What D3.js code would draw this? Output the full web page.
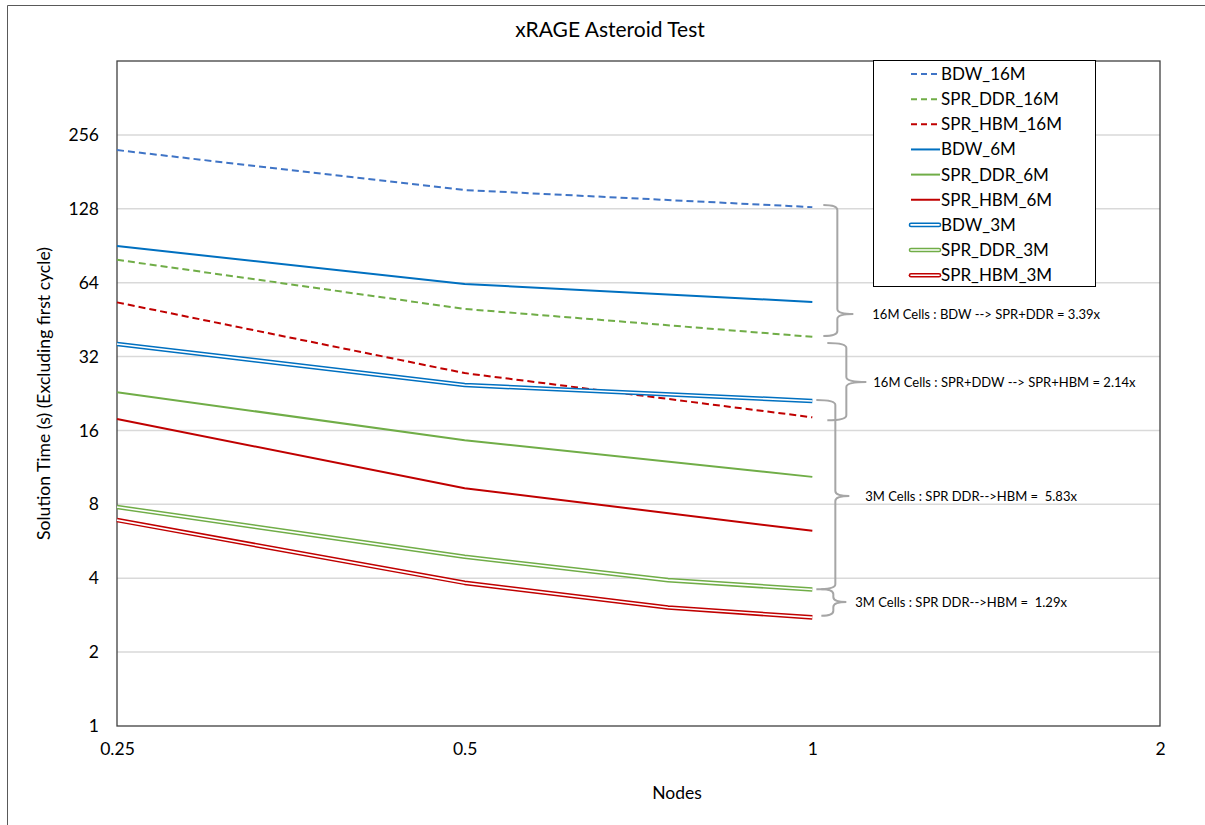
<!DOCTYPE html>
<html>
<head>
<meta charset="utf-8">
<script src="https://cdn.jsdelivr.net/npm/d3@7"></script>
<style>
  body { margin: 0; background: #fff; }
  svg { display: block; font-family: Lato, "Liberation Sans", sans-serif; }
  text { white-space: pre; }
</style>
</head>
<body>
<svg id="chart" width="1205" height="825"></svg>
<script>
// ---- data ----
const xTicks = [0.25, 0.5, 1, 2];
const yTicks = [1, 2, 4, 8, 16, 32, 64, 128, 256];

const nodes4 = [0.25, 0.5, 0.75, 1];
const nodes3 = [0.25, 0.5, 1];

const BDW_16M     = [222, 152.6, 130];
const SPR_DDR_16M = [79.3, 50.0, 38.5];
const SPR_HBM_16M = [53.2, 27.4, 18.1];
const BDW_6M      = [90.2, 63.2, 53.4];
const SPR_DDR_6M  = [22.9, 14.6, 10.35];
const SPR_HBM_6M  = [17.8, 9.3, 6.24];
const BDW_3M      = [36.0, 24.5, 21.1];
const SPR_DDR_3M  = [7.8, 4.89, 3.93, 3.6];
const SPR_HBM_3M  = [6.9, 3.83, 3.04, 2.77];

const seriesNames = ["BDW_16M","SPR_DDR_16M","SPR_HBM_16M","BDW_6M","SPR_DDR_6M","SPR_HBM_6M","BDW_3M","SPR_DDR_3M","SPR_HBM_3M"];
const seriesX = [nodes3, nodes3, nodes3, nodes3, nodes3, nodes3, nodes3, nodes4, nodes4];
const seriesY = [BDW_16M, SPR_DDR_16M, SPR_HBM_16M, BDW_6M, SPR_DDR_6M, SPR_HBM_6M, BDW_3M, SPR_DDR_3M, SPR_HBM_3M];
const seriesColor = ["#3F74C6","#70AD47","#C00000","#0070C0","#70AD47","#C00000","#0070C0","#70AD47","#C00000"];
const seriesStyle = ["dash","dash","dash","solid","solid","solid","double","double","double"];

// annotation braces (values in data units)
const braceTop   = [132.5, 36.3, 21.3, 3.61];
const braceBot   = [38.8, 17.6, 3.61, 2.81];
const braceTip   = [47.7, 25.2, 8.65, 3.2];
const braceText  = ["16M Cells : BDW --> SPR+DDR = 3.39x",
                    "16M Cells : SPR+DDW --> SPR+HBM = 2.14x",
                    "3M Cells : SPR DDR-->HBM =  5.83x",
                    "3M Cells : SPR DDR-->HBM =  1.29x"];

// ---- layout ----
const svg = d3.select("#chart");
const L = 117, R = 1160, T = 61, B = 726;
const x = d3.scaleLog().base(2).domain([0.25, 2]).range([L, R]);
const y = d3.scaleLog().base(2).domain([1, 512]).range([B, T]);

// outer chart border
svg.append("path").attr("d", `M7.5,825 V5.5 H1205`).attr("fill","none").attr("stroke","#595959").attr("stroke-width",1);

// gridlines
svg.append("g").selectAll("line").data(yTicks.filter(d => d > 1)).join("line")
  .attr("x1", L).attr("x2", R).attr("y1", d => y(d)).attr("y2", d => y(d))
  .attr("stroke", "#D9D9D9").attr("stroke-width", 1.5);

// plot border
svg.append("rect").attr("x", L).attr("y", T).attr("width", R - L).attr("height", B - T)
  .attr("fill","none").attr("stroke","#404040").attr("stroke-width",1.3);

// axes
const xAxis = d3.axisBottom(x).tickValues(xTicks).tickFormat(d => String(d)).tickSize(0).tickPadding(17);
const gx = svg.append("g").attr("transform", `translate(0,${B})`).call(xAxis);
gx.select(".domain").remove();
gx.selectAll("text").attr("font-size", 17.5).attr("fill", "#000").attr("font-family","Lato");

const yAxis = d3.axisLeft(y).tickValues(yTicks).tickFormat(d => String(d)).tickSize(0).tickPadding(18);
const gy = svg.append("g").attr("transform", `translate(${L},0)`).call(yAxis);
gy.select(".domain").remove();
gy.selectAll("text").attr("font-size", 17.5).attr("fill", "#000").attr("font-family","Lato");

// title and axis labels
svg.append("text").attr("x", 610).attr("y", 30).attr("dy", "0.35em").attr("text-anchor","middle")
  .attr("font-size", 21).attr("fill","#000").text("xRAGE Asteroid Test");
svg.append("text").attr("x", 677).attr("y", 793).attr("dy","0.35em").attr("text-anchor","middle")
  .attr("font-size", 17.5).attr("fill","#000").text("Nodes");
svg.append("text").attr("transform", `translate(44,${(T + B) / 2}) rotate(-90)`).attr("dy","0.35em")
  .attr("text-anchor","middle").attr("font-size", 17.6).attr("fill","#000")
  .text("Solution Time (s) (Excluding first cycle)");

// lines
const line = d3.line().x(d => x(d[0])).y(d => y(d[1]));
const gl = svg.append("g");
seriesNames.forEach((name, i) => {
  const pts = seriesX[i].map((xv, j) => [xv, seriesY[i][j]]);
  const d = line(pts);
  if (seriesStyle[i] === "double") {
    gl.append("path").attr("d", d).attr("fill","none").attr("stroke", seriesColor[i]).attr("stroke-width", 4.6).attr("stroke-linejoin","round");
    gl.append("path").attr("d", d).attr("fill","none").attr("stroke", "#fff").attr("stroke-width", 1.6).attr("stroke-linejoin","round");
  } else {
    gl.append("path").attr("d", d).attr("fill","none").attr("stroke", seriesColor[i]).attr("stroke-width", 2)
      .attr("stroke-linejoin","round")
      .attr("stroke-dasharray", seriesStyle[i] === "dash" ? "7,4" : null);
  }
});

// braces
const braceGeom = [
  {xl: 822 - 811, xv: 836 - 811, xt: 852 - 811, tx: 871 - 811},
  {xl: 826 - 811, xv: 845 - 811, xt: 865 - 811, tx: 872 - 811},
  {xl: 815 - 811, xv: 834 - 811, xt: 848 - 811, tx: 864 - 811},
  {xl: 820 - 811, xv: 832 - 811, xt: 845 - 811, tx: 854 - 811}
];
const gb = svg.append("g");
braceText.forEach((t, i) => {
  const g = braceGeom[i];
  const x0 = x(1);
  const xl = x0 + g.xl, xv = x0 + g.xv, xt = x0 + g.xt;
  const yt = y(braceTop[i]), yb = y(braceBot[i]), ym = y(braceTip[i]);
  const r = Math.min(5, (ym - yt) / 2, (yb - ym) / 2);
  const p = d3.path();
  p.moveTo(xl, yt);
  p.quadraticCurveTo(xv, yt, xv, yt + r);
  p.lineTo(xv, ym - r);
  p.quadraticCurveTo(xv, ym, xt, ym);
  p.quadraticCurveTo(xv, ym, xv, ym + r);
  p.lineTo(xv, yb - r);
  p.quadraticCurveTo(xv, yb, xl, yb);
  gb.append("path").attr("d", p.toString()).attr("fill","none").attr("stroke","#A6A6A6").attr("stroke-width", 2);
  gb.append("text").attr("x", x0 + g.tx).attr("y", ym).attr("dy","0.35em").attr("font-size", 13)
    .attr("fill","#000").text(t);
});

// legend
const lg = svg.append("g");
lg.append("rect").attr("x", 873.5).attr("y", 60.5).attr("width", 222).attr("height", 226)
  .attr("fill","#fff").attr("stroke","#000").attr("stroke-width",1);
seriesNames.forEach((name, i) => {
  const cy = 74 + i * 25.15;
  if (seriesStyle[i] === "double") {
    lg.append("line").attr("x1", 911).attr("x2", 939).attr("y1", cy).attr("y2", cy)
      .attr("stroke", seriesColor[i]).attr("stroke-width", 4.6).attr("stroke-linecap","round");
    lg.append("line").attr("x1", 911).attr("x2", 939).attr("y1", cy).attr("y2", cy)
      .attr("stroke", "#fff").attr("stroke-width", 1.6).attr("stroke-linecap","round");
  } else {
    lg.append("line").attr("x1", 911).attr("x2", 940).attr("y1", cy).attr("y2", cy)
      .attr("stroke", seriesColor[i]).attr("stroke-width", 2)
      .attr("stroke-dasharray", seriesStyle[i] === "dash" ? "6,4" : null);
  }
  lg.append("text").attr("x", 941).attr("y", cy).attr("dy","0.35em").attr("font-size", 17)
    .attr("fill","#000").text(name);
});
</script>
</body>
</html>
